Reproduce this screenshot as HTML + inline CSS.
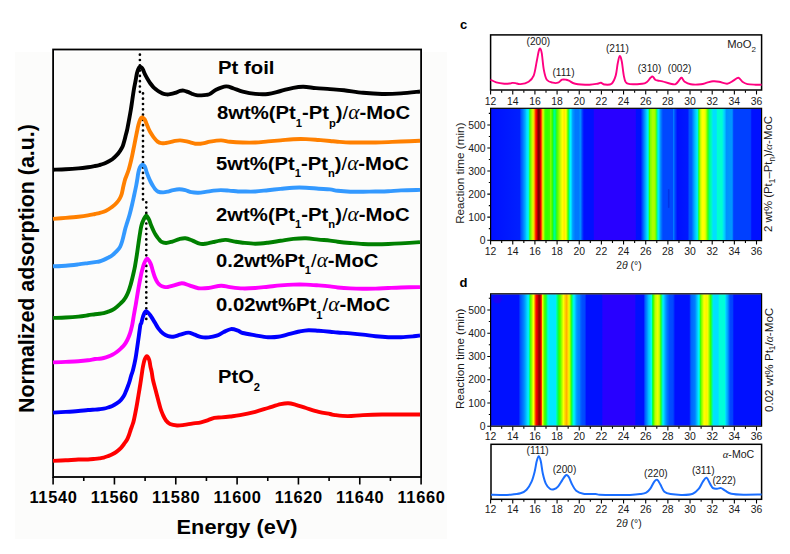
<!DOCTYPE html><html><head><meta charset="utf-8"><style>html,body{margin:0;padding:0;background:#fff;}svg{display:block}</style></head><body>
<svg xmlns="http://www.w3.org/2000/svg" width="790" height="554" viewBox="0 0 790 554" font-family='&quot;Liberation Sans&quot;, sans-serif'>
<rect x="0" y="0" width="790" height="554" fill="#fff"/>
<rect x="15" y="52" width="432" height="487" fill="#fcfcfb"/>
<rect x="53.1" y="49.5" width="368" height="427.5" fill="none" stroke="#000" stroke-width="1.8"/>
<path d="M53.10,477 V484.5 M83.77,477 V481 M114.43,477 V484.5 M145.10,477 V481 M175.77,477 V484.5 M206.43,477 V481 M237.10,477 V484.5 M267.77,477 V481 M298.43,477 V484.5 M329.10,477 V481 M359.77,477 V484.5 M390.43,477 V481 M421.10,477 V484.5" stroke="#000" stroke-width="1.6" fill="none"/>
<g transform="translate(53.10,502.5) scale(1.04,1)"><text x="0.4" y="0" font-size="15.8" font-weight="bold" letter-spacing="0.65" text-anchor="middle">11540</text></g>
<g transform="translate(114.43,502.5) scale(1.04,1)"><text x="0.4" y="0" font-size="15.8" font-weight="bold" letter-spacing="0.65" text-anchor="middle">11560</text></g>
<g transform="translate(175.77,502.5) scale(1.04,1)"><text x="0.4" y="0" font-size="15.8" font-weight="bold" letter-spacing="0.65" text-anchor="middle">11580</text></g>
<g transform="translate(237.10,502.5) scale(1.04,1)"><text x="0.4" y="0" font-size="15.8" font-weight="bold" letter-spacing="0.65" text-anchor="middle">11600</text></g>
<g transform="translate(298.43,502.5) scale(1.04,1)"><text x="0.4" y="0" font-size="15.8" font-weight="bold" letter-spacing="0.65" text-anchor="middle">11620</text></g>
<g transform="translate(359.77,502.5) scale(1.04,1)"><text x="0.4" y="0" font-size="15.8" font-weight="bold" letter-spacing="0.65" text-anchor="middle">11640</text></g>
<g transform="translate(421.10,502.5) scale(1.04,1)"><text x="0.4" y="0" font-size="15.8" font-weight="bold" letter-spacing="0.65" text-anchor="middle">11660</text></g>
<g transform="translate(237.1,533.9) scale(1.058,1)"><text x="0" y="0" font-size="20.6" font-weight="bold" text-anchor="middle">Energy (eV)</text></g>
<g transform="translate(34.4,268.5) scale(1.043,1) rotate(-90)"><text x="0" y="0" font-size="21.4" font-weight="bold" text-anchor="middle">Normalized adsorption (a.u.)</text></g>
<path d="M139.9,54.7 V92.2" stroke="#000" stroke-width="2.7" stroke-linecap="round" stroke-dasharray="0 5.3" fill="none"/>
<path d="M143,93.4 V199.5" stroke="#000" stroke-width="2.7" stroke-linecap="round" stroke-dasharray="0 5.3" fill="none"/>
<path d="M146.3,202.3 V324.2" stroke="#000" stroke-width="2.7" stroke-linecap="round" stroke-dasharray="0 5.3" fill="none"/>
<path d="M53.00,460.90 C55.12,460.80 61.48,460.53 65.70,460.30 C69.92,460.07 74.58,459.63 78.30,459.50 C82.02,459.37 85.22,459.60 88.00,459.50 C90.78,459.40 93.12,459.08 95.00,458.90 C96.88,458.72 97.85,458.62 99.30,458.40 C100.75,458.18 102.25,457.98 103.70,457.60 C105.15,457.22 106.57,456.65 108.00,456.10 C109.43,455.55 110.85,455.05 112.30,454.30 C113.75,453.55 115.25,452.68 116.70,451.60 C118.15,450.52 119.68,449.20 121.00,447.80 C122.32,446.40 123.58,444.58 124.60,443.20 C125.62,441.82 126.37,440.87 127.10,439.50 C127.83,438.13 128.42,436.58 129.00,435.00 C129.58,433.42 130.03,431.67 130.60,430.00 C131.17,428.33 131.85,426.67 132.40,425.00 C132.95,423.33 133.20,423.10 133.90,420.00 C134.60,416.90 135.83,410.57 136.60,406.40 C137.37,402.23 137.87,398.82 138.50,395.00 C139.13,391.18 139.80,387.33 140.40,383.50 C141.00,379.67 141.67,374.87 142.10,372.00 C142.53,369.13 142.58,368.33 143.00,366.30 C143.42,364.27 143.97,361.47 144.60,359.80 C145.23,358.13 146.03,356.30 146.80,356.30 C147.57,356.30 148.60,358.13 149.20,359.80 C149.80,361.47 149.97,364.18 150.40,366.30 C150.83,368.42 151.37,370.22 151.80,372.50 C152.23,374.78 152.37,377.08 153.00,380.00 C153.63,382.92 154.73,386.67 155.60,390.00 C156.47,393.33 157.38,396.92 158.20,400.00 C159.02,403.08 159.70,406.00 160.50,408.50 C161.30,411.00 162.08,413.00 163.00,415.00 C163.92,417.00 164.83,419.00 166.00,420.50 C167.17,422.00 168.15,423.17 170.00,424.00 C171.85,424.83 174.73,425.35 177.10,425.50 C179.47,425.65 181.70,425.22 184.20,424.90 C186.70,424.58 189.30,424.03 192.10,423.60 C194.90,423.17 198.33,422.88 201.00,422.30 C203.67,421.72 205.88,420.85 208.10,420.10 C210.32,419.35 212.08,418.25 214.30,417.80 C216.52,417.35 218.75,417.62 221.40,417.40 C224.05,417.18 227.10,416.87 230.20,416.50 C233.30,416.13 235.82,415.98 240.00,415.20 C244.18,414.42 250.63,413.00 255.30,411.80 C259.97,410.60 263.78,409.27 268.00,408.00 C272.22,406.73 277.23,405.00 280.60,404.20 C283.97,403.40 285.67,403.10 288.20,403.20 C290.73,403.30 292.83,404.00 295.80,404.80 C298.77,405.60 302.20,406.83 306.00,408.00 C309.80,409.17 314.60,410.80 318.60,411.80 C322.60,412.80 327.25,413.45 330.00,414.00 C332.75,414.55 332.13,414.75 335.10,415.10 C338.07,415.45 343.15,416.10 347.80,416.10 C352.45,416.10 357.30,415.37 363.00,415.10 C368.70,414.83 375.67,414.60 382.00,414.50 C388.33,414.40 394.67,414.50 401.00,414.50 C407.33,414.50 416.83,414.50 420.00,414.50" stroke="#ff0000" stroke-width="3.9" fill="none" stroke-linejoin="round" stroke-linecap="butt"/>
<path d="M53.00,412.60 C55.12,412.48 61.48,412.17 65.70,411.90 C69.92,411.63 74.58,411.32 78.30,411.00 C82.02,410.68 85.22,410.23 88.00,410.00 C90.78,409.77 93.12,409.73 95.00,409.60 C96.88,409.47 97.85,409.37 99.30,409.20 C100.75,409.03 102.25,408.88 103.70,408.60 C105.15,408.32 106.57,407.93 108.00,407.50 C109.43,407.07 110.85,406.68 112.30,406.00 C113.75,405.32 115.25,404.43 116.70,403.40 C118.15,402.37 119.85,400.98 121.00,399.80 C122.15,398.62 122.87,397.50 123.60,396.30 C124.33,395.10 124.70,394.23 125.40,392.60 C126.10,390.97 127.08,388.43 127.80,386.50 C128.52,384.57 129.13,382.83 129.70,381.00 C130.27,379.17 130.65,377.33 131.20,375.50 C131.75,373.67 132.28,372.80 133.00,370.00 C133.72,367.20 134.80,362.45 135.50,358.70 C136.20,354.95 136.65,351.25 137.20,347.50 C137.75,343.75 138.27,339.95 138.80,336.20 C139.33,332.45 139.97,327.23 140.40,325.00 C140.83,322.77 140.92,324.35 141.40,322.80 C141.88,321.25 142.52,317.62 143.30,315.70 C144.08,313.78 144.88,311.30 146.10,311.30 C147.32,311.30 149.12,313.78 150.60,315.70 C152.08,317.62 153.72,320.68 155.00,322.80 C156.28,324.92 156.95,326.60 158.30,328.40 C159.65,330.20 161.47,332.30 163.10,333.60 C164.73,334.90 166.42,335.68 168.10,336.20 C169.78,336.72 171.17,336.95 173.20,336.70 C175.23,336.45 177.77,335.38 180.30,334.70 C182.83,334.02 186.03,332.60 188.40,332.60 C190.77,332.60 192.32,333.93 194.50,334.70 C196.68,335.47 199.15,336.75 201.50,337.20 C203.85,337.65 206.07,337.65 208.60,337.40 C211.13,337.15 214.17,336.58 216.70,335.70 C219.23,334.82 221.43,333.20 223.80,332.10 C226.17,331.00 228.53,329.35 230.90,329.10 C233.27,328.85 236.03,329.95 238.00,330.60 C239.97,331.25 239.82,332.22 242.70,333.00 C245.58,333.78 251.08,334.60 255.30,335.30 C259.52,336.00 264.20,336.95 268.00,337.20 C271.80,337.45 274.93,337.23 278.10,336.80 C281.27,336.37 283.42,335.48 287.00,334.60 C290.58,333.72 296.02,332.23 299.60,331.50 C303.18,330.77 305.33,330.32 308.50,330.20 C311.67,330.08 315.02,330.55 318.60,330.80 C322.18,331.05 326.82,331.42 330.00,331.70 C333.18,331.98 334.32,332.22 337.70,332.50 C341.08,332.78 346.08,333.05 350.30,333.40 C354.52,333.75 358.78,334.12 363.00,334.60 C367.22,335.08 371.38,335.87 375.60,336.30 C379.82,336.73 384.07,337.05 388.30,337.20 C392.53,337.35 396.78,337.35 401.00,337.20 C405.22,337.05 410.43,336.58 413.60,336.30 C416.77,336.02 418.93,335.63 420.00,335.50" stroke="#0000ff" stroke-width="3.9" fill="none" stroke-linejoin="round" stroke-linecap="butt"/>
<path d="M53.00,362.40 C55.12,362.32 61.48,362.08 65.70,361.90 C69.92,361.72 74.58,361.57 78.30,361.30 C82.02,361.03 85.22,360.68 88.00,360.30 C90.78,359.92 93.12,359.25 95.00,359.00 C96.88,358.75 97.85,358.97 99.30,358.80 C100.75,358.63 102.25,358.35 103.70,358.00 C105.15,357.65 106.57,357.23 108.00,356.70 C109.43,356.17 110.85,355.58 112.30,354.80 C113.75,354.02 115.25,353.08 116.70,352.00 C118.15,350.92 119.72,349.50 121.00,348.30 C122.28,347.10 123.35,346.18 124.40,344.80 C125.45,343.42 126.43,341.72 127.30,340.00 C128.17,338.28 128.97,336.25 129.60,334.50 C130.23,332.75 130.65,331.17 131.10,329.50 C131.55,327.83 131.83,326.92 132.30,324.50 C132.77,322.08 133.33,318.25 133.90,315.00 C134.47,311.75 135.25,307.58 135.70,305.00 C136.15,302.42 136.13,302.30 136.60,299.50 C137.07,296.70 137.83,291.95 138.50,288.20 C139.17,284.45 139.98,280.02 140.60,277.00 C141.22,273.98 141.60,272.38 142.20,270.10 C142.80,267.82 143.37,265.22 144.20,263.30 C145.03,261.38 146.15,258.60 147.20,258.60 C148.25,258.60 149.60,261.38 150.50,263.30 C151.40,265.22 151.88,267.82 152.60,270.10 C153.32,272.38 153.98,274.93 154.80,277.00 C155.62,279.07 156.55,281.08 157.50,282.50 C158.45,283.92 159.42,284.78 160.50,285.50 C161.58,286.22 162.77,286.55 164.00,286.80 C165.23,287.05 166.40,287.18 167.90,287.00 C169.40,286.82 170.68,286.33 173.00,285.70 C175.32,285.07 179.07,283.25 181.80,283.20 C184.53,283.15 186.65,284.57 189.40,285.40 C192.15,286.23 195.13,287.77 198.30,288.20 C201.47,288.63 204.60,288.42 208.40,288.00 C212.20,287.58 217.50,285.85 221.10,285.70 C224.70,285.55 226.40,286.65 230.00,287.10 C233.60,287.55 238.48,288.25 242.70,288.40 C246.92,288.55 251.08,288.28 255.30,288.00 C259.52,287.72 263.78,287.13 268.00,286.70 C272.22,286.27 276.38,285.75 280.60,285.40 C284.82,285.05 289.07,284.73 293.30,284.60 C297.53,284.47 301.78,284.47 306.00,284.60 C310.22,284.73 314.60,285.10 318.60,285.40 C322.60,285.70 326.82,286.05 330.00,286.40 C333.18,286.75 334.32,287.17 337.70,287.50 C341.08,287.83 346.08,288.20 350.30,288.40 C354.52,288.60 358.78,288.67 363.00,288.70 C367.22,288.73 371.38,288.72 375.60,288.60 C379.82,288.48 384.07,288.18 388.30,288.00 C392.53,287.82 395.72,287.65 401.00,287.50 C406.28,287.35 416.83,287.17 420.00,287.10" stroke="#ff00ff" stroke-width="3.9" fill="none" stroke-linejoin="round" stroke-linecap="butt"/>
<path d="M53.00,317.90 C55.12,317.83 61.48,317.72 65.70,317.50 C69.92,317.28 74.58,316.97 78.30,316.60 C82.02,316.23 85.22,315.70 88.00,315.30 C90.78,314.90 93.12,314.45 95.00,314.20 C96.88,313.95 97.85,313.98 99.30,313.80 C100.75,313.62 102.25,313.45 103.70,313.10 C105.15,312.75 106.57,312.22 108.00,311.70 C109.43,311.18 110.85,310.80 112.30,310.00 C113.75,309.20 115.25,308.07 116.70,306.90 C118.15,305.73 119.87,304.08 121.00,303.00 C122.13,301.92 122.73,301.32 123.50,300.40 C124.27,299.48 124.93,298.60 125.60,297.50 C126.27,296.40 126.90,295.17 127.50,293.80 C128.10,292.43 128.67,290.85 129.20,289.30 C129.73,287.75 130.15,286.47 130.70,284.50 C131.25,282.53 131.95,279.75 132.50,277.50 C133.05,275.25 133.57,272.97 134.00,271.00 C134.43,269.03 134.62,268.45 135.10,265.70 C135.58,262.95 136.33,258.25 136.90,254.50 C137.47,250.75 137.95,246.95 138.50,243.20 C139.05,239.45 139.70,234.98 140.20,232.00 C140.70,229.02 140.93,227.37 141.50,225.30 C142.07,223.23 142.80,221.22 143.60,219.60 C144.40,217.98 145.40,215.60 146.30,215.60 C147.20,215.60 148.20,217.98 149.00,219.60 C149.80,221.22 150.25,223.23 151.10,225.30 C151.95,227.37 153.25,230.30 154.10,232.00 C154.95,233.70 155.55,234.48 156.20,235.50 C156.85,236.52 157.18,237.08 158.00,238.10 C158.82,239.12 159.75,240.78 161.10,241.60 C162.45,242.42 164.25,243.00 166.10,243.00 C167.95,243.00 170.00,242.25 172.20,241.60 C174.40,240.95 177.10,239.65 179.30,239.10 C181.50,238.55 183.20,238.05 185.40,238.30 C187.60,238.55 190.13,239.70 192.50,240.60 C194.87,241.50 197.42,243.18 199.60,243.70 C201.78,244.22 203.42,243.95 205.60,243.70 C207.78,243.45 210.33,242.72 212.70,242.20 C215.07,241.68 217.60,240.98 219.80,240.60 C222.00,240.22 223.37,239.73 225.90,239.90 C228.43,240.07 232.20,241.13 235.00,241.60 C237.80,242.07 239.32,242.35 242.70,242.70 C246.08,243.05 251.08,243.70 255.30,243.70 C259.52,243.70 263.78,243.18 268.00,242.70 C272.22,242.22 276.38,241.43 280.60,240.80 C284.82,240.17 289.07,239.32 293.30,238.90 C297.53,238.48 301.78,238.18 306.00,238.30 C310.22,238.42 314.60,239.22 318.60,239.60 C322.60,239.98 326.82,240.25 330.00,240.60 C333.18,240.95 334.32,241.30 337.70,241.70 C341.08,242.10 346.08,242.62 350.30,243.00 C354.52,243.38 358.78,243.80 363.00,244.00 C367.22,244.20 371.38,244.20 375.60,244.20 C379.82,244.20 384.07,244.13 388.30,244.00 C392.53,243.87 395.72,243.72 401.00,243.40 C406.28,243.08 416.83,242.32 420.00,242.10" stroke="#008000" stroke-width="3.9" fill="none" stroke-linejoin="round" stroke-linecap="butt"/>
<path d="M53.00,266.30 C55.12,266.20 61.48,266.02 65.70,265.70 C69.92,265.38 74.58,264.83 78.30,264.40 C82.02,263.97 85.22,263.48 88.00,263.10 C90.78,262.72 93.12,262.37 95.00,262.10 C96.88,261.83 97.85,261.87 99.30,261.50 C100.75,261.13 102.25,260.52 103.70,259.90 C105.15,259.28 106.57,258.58 108.00,257.80 C109.43,257.02 110.85,256.30 112.30,255.20 C113.75,254.10 115.40,252.60 116.70,251.20 C118.00,249.80 119.17,248.53 120.10,246.80 C121.03,245.07 121.67,242.87 122.30,240.80 C122.93,238.73 123.42,236.37 123.90,234.40 C124.38,232.43 124.78,230.57 125.20,229.00 C125.62,227.43 125.68,227.33 126.40,225.00 C127.12,222.67 128.57,218.33 129.50,215.00 C130.43,211.67 131.22,208.33 132.00,205.00 C132.78,201.67 133.48,198.33 134.20,195.00 C134.92,191.67 135.75,187.83 136.30,185.00 C136.85,182.17 137.15,180.10 137.50,178.00 C137.85,175.90 137.98,174.20 138.40,172.40 C138.82,170.60 139.37,168.48 140.00,167.20 C140.63,165.92 141.57,165.00 142.20,164.70 C142.83,164.40 143.32,164.98 143.80,165.40 C144.28,165.82 144.62,166.03 145.10,167.20 C145.58,168.37 146.10,170.68 146.70,172.40 C147.30,174.12 148.07,175.98 148.70,177.50 C149.33,179.02 149.83,180.17 150.50,181.50 C151.17,182.83 151.95,184.25 152.70,185.50 C153.45,186.75 154.12,187.98 155.00,189.00 C155.88,190.02 156.65,191.03 158.00,191.60 C159.35,192.17 161.42,192.40 163.10,192.40 C164.78,192.40 166.42,191.98 168.10,191.60 C169.78,191.22 171.33,190.48 173.20,190.10 C175.07,189.72 177.28,189.30 179.30,189.30 C181.32,189.30 183.28,189.62 185.30,190.10 C187.32,190.58 189.20,191.77 191.40,192.20 C193.60,192.63 196.13,192.75 198.50,192.70 C200.87,192.65 203.07,192.25 205.60,191.90 C208.13,191.55 211.17,190.90 213.70,190.60 C216.23,190.30 218.27,190.10 220.80,190.10 C223.33,190.10 226.03,190.37 228.90,190.60 C231.77,190.83 235.70,191.35 238.00,191.50 C240.30,191.65 239.82,191.50 242.70,191.50 C245.58,191.50 251.08,191.72 255.30,191.50 C259.52,191.28 263.78,190.63 268.00,190.20 C272.22,189.77 276.38,189.32 280.60,188.90 C284.82,188.48 289.07,187.90 293.30,187.70 C297.53,187.50 301.78,187.53 306.00,187.70 C310.22,187.87 314.60,188.42 318.60,188.70 C322.60,188.98 326.82,189.05 330.00,189.40 C333.18,189.75 334.32,190.42 337.70,190.80 C341.08,191.18 346.08,191.55 350.30,191.70 C354.52,191.85 358.78,191.73 363.00,191.70 C367.22,191.67 371.38,191.58 375.60,191.50 C379.82,191.42 384.07,191.38 388.30,191.20 C392.53,191.02 395.72,190.62 401.00,190.40 C406.28,190.18 416.83,189.98 420.00,189.90" stroke="#3399ff" stroke-width="3.9" fill="none" stroke-linejoin="round" stroke-linecap="butt"/>
<path d="M53.00,218.90 C55.12,218.73 61.48,218.27 65.70,217.90 C69.92,217.53 74.58,217.12 78.30,216.70 C82.02,216.28 85.22,215.85 88.00,215.40 C90.78,214.95 93.12,214.38 95.00,214.00 C96.88,213.62 97.85,213.47 99.30,213.10 C100.75,212.73 102.25,212.38 103.70,211.80 C105.15,211.22 106.57,210.43 108.00,209.60 C109.43,208.77 110.85,207.95 112.30,206.80 C113.75,205.65 115.47,204.07 116.70,202.70 C117.93,201.33 118.87,200.05 119.70,198.60 C120.53,197.15 121.13,195.85 121.70,194.00 C122.27,192.15 122.65,189.50 123.10,187.50 C123.55,185.50 124.02,183.50 124.40,182.00 C124.78,180.50 124.70,180.50 125.40,178.50 C126.10,176.50 127.63,173.08 128.60,170.00 C129.57,166.92 130.42,163.33 131.20,160.00 C131.98,156.67 132.62,153.33 133.30,150.00 C133.98,146.67 134.72,142.92 135.30,140.00 C135.88,137.08 136.28,135.00 136.80,132.50 C137.32,130.00 137.82,127.20 138.40,125.00 C138.98,122.80 139.72,120.57 140.30,119.30 C140.88,118.03 141.37,117.58 141.90,117.40 C142.43,117.22 143.00,117.82 143.50,118.20 C144.00,118.58 144.42,118.82 144.90,119.70 C145.38,120.58 145.77,121.95 146.40,123.50 C147.03,125.05 148.02,127.50 148.70,129.00 C149.38,130.50 149.70,131.15 150.50,132.50 C151.30,133.85 152.32,135.58 153.50,137.10 C154.68,138.62 156.28,140.58 157.60,141.60 C158.92,142.62 160.03,142.97 161.40,143.20 C162.77,143.43 164.33,143.17 165.80,143.00 C167.27,142.83 168.65,142.55 170.20,142.20 C171.75,141.85 173.45,141.20 175.10,140.90 C176.75,140.60 178.42,140.37 180.10,140.40 C181.78,140.43 183.50,140.77 185.20,141.10 C186.90,141.43 188.62,141.97 190.30,142.40 C191.98,142.83 193.62,143.48 195.30,143.70 C196.98,143.92 198.72,143.83 200.40,143.70 C202.08,143.57 203.80,143.25 205.40,142.90 C207.00,142.55 207.38,142.02 210.00,141.60 C212.62,141.18 217.77,140.38 221.10,140.40 C224.43,140.42 226.40,141.35 230.00,141.70 C233.60,142.05 238.48,142.37 242.70,142.50 C246.92,142.63 251.08,142.68 255.30,142.50 C259.52,142.32 263.78,141.75 268.00,141.40 C272.22,141.05 276.38,140.77 280.60,140.40 C284.82,140.03 289.07,139.42 293.30,139.20 C297.53,138.98 301.78,138.97 306.00,139.10 C310.22,139.23 314.60,139.68 318.60,140.00 C322.60,140.32 326.82,140.72 330.00,141.00 C333.18,141.28 334.32,141.45 337.70,141.70 C341.08,141.95 346.08,142.37 350.30,142.50 C354.52,142.63 358.78,142.50 363.00,142.50 C367.22,142.50 371.38,142.57 375.60,142.50 C379.82,142.43 384.07,142.27 388.30,142.10 C392.53,141.93 395.72,141.72 401.00,141.50 C406.28,141.28 416.83,140.92 420.00,140.80" stroke="#ff8000" stroke-width="3.9" fill="none" stroke-linejoin="round" stroke-linecap="butt"/>
<path d="M53.00,169.70 C55.12,169.63 61.48,169.52 65.70,169.30 C69.92,169.08 74.58,168.75 78.30,168.40 C82.02,168.05 85.22,167.60 88.00,167.20 C90.78,166.80 93.12,166.35 95.00,166.00 C96.88,165.65 97.85,165.47 99.30,165.10 C100.75,164.73 102.25,164.37 103.70,163.80 C105.15,163.23 106.57,162.47 108.00,161.70 C109.43,160.93 110.85,160.28 112.30,159.20 C113.75,158.12 115.40,156.60 116.70,155.20 C118.00,153.80 119.10,152.28 120.10,150.80 C121.10,149.32 121.98,148.02 122.70,146.30 C123.42,144.58 123.88,142.38 124.40,140.50 C124.92,138.62 125.35,136.75 125.80,135.00 C126.25,133.25 126.57,132.50 127.10,130.00 C127.63,127.50 128.38,123.33 129.00,120.00 C129.62,116.67 130.25,113.33 130.80,110.00 C131.35,106.67 131.80,103.33 132.30,100.00 C132.80,96.67 133.28,93.05 133.80,90.00 C134.32,86.95 134.88,84.45 135.40,81.70 C135.92,78.95 136.42,75.62 136.90,73.50 C137.38,71.38 137.78,70.10 138.30,69.00 C138.82,67.90 139.43,67.13 140.00,66.90 C140.57,66.67 141.20,67.15 141.70,67.60 C142.20,68.05 142.45,68.47 143.00,69.60 C143.55,70.73 144.22,72.80 145.00,74.40 C145.78,76.00 146.80,77.68 147.70,79.20 C148.60,80.72 149.50,82.23 150.40,83.50 C151.30,84.77 152.20,85.85 153.10,86.80 C154.00,87.75 154.80,88.38 155.80,89.20 C156.80,90.02 158.02,91.02 159.10,91.70 C160.18,92.38 161.03,92.85 162.30,93.30 C163.57,93.75 165.42,94.25 166.70,94.40 C167.98,94.55 168.60,94.45 170.00,94.20 C171.40,93.95 173.42,93.45 175.10,92.90 C176.78,92.35 178.67,91.28 180.10,90.90 C181.53,90.52 182.43,90.43 183.70,90.60 C184.97,90.77 186.35,91.38 187.70,91.90 C189.05,92.42 190.37,93.15 191.80,93.70 C193.23,94.25 194.70,94.92 196.30,95.20 C197.90,95.48 199.70,95.45 201.40,95.40 C203.10,95.35 205.07,95.15 206.50,94.90 C207.93,94.65 208.42,94.75 210.00,93.90 C211.58,93.05 213.32,91.05 216.00,89.80 C218.68,88.55 223.15,86.62 226.10,86.40 C229.05,86.18 230.93,87.63 233.70,88.50 C236.47,89.37 239.10,90.70 242.70,91.60 C246.30,92.50 251.08,93.50 255.30,93.90 C259.52,94.30 263.78,94.48 268.00,94.00 C272.22,93.52 276.38,92.03 280.60,91.00 C284.82,89.97 289.50,88.50 293.30,87.80 C297.10,87.10 299.62,86.75 303.40,86.80 C307.18,86.85 311.57,87.72 316.00,88.10 C320.43,88.48 325.33,88.73 330.00,89.10 C334.67,89.47 338.50,89.68 344.00,90.30 C349.50,90.92 356.67,92.18 363.00,92.80 C369.33,93.42 375.67,93.90 382.00,94.00 C388.33,94.10 394.67,93.82 401.00,93.40 C407.33,92.98 416.83,91.82 420.00,91.50" stroke="#000000" stroke-width="3.9" fill="none" stroke-linejoin="round" stroke-linecap="butt"/>
<g transform="translate(217.99,73.70) scale(1.0711,1)"><text x="0" y="0" font-size="19" font-weight="bold">Pt foil</text></g>
<g transform="translate(217.00,119.00) scale(1.0672,1)"><text x="0" y="0" font-size="19" font-weight="bold">8wt%(Pt<tspan font-size="10.5" dy="7.7">1</tspan><tspan dy="-7.7">-Pt</tspan><tspan font-size="10.5" dy="7.7">p</tspan><tspan dy="-7.7">)<tspan font-weight="normal">/</tspan></tspan><tspan font-weight="normal" font-style="italic" font-size="20" font-family="Liberation Serif, serif">&#945;</tspan>-MoC</text></g>
<g transform="translate(216.01,169.60) scale(1.0661,1)"><text x="0" y="0" font-size="19" font-weight="bold">5wt%(Pt<tspan font-size="10.5" dy="7.7">1</tspan><tspan dy="-7.7">-Pt</tspan><tspan font-size="10.5" dy="7.7">n</tspan><tspan dy="-7.7">)<tspan font-weight="normal">/</tspan></tspan><tspan font-weight="normal" font-style="italic" font-size="20" font-family="Liberation Serif, serif">&#945;</tspan>-MoC</text></g>
<g transform="translate(216.01,220.70) scale(1.0700,1)"><text x="0" y="0" font-size="19" font-weight="bold">2wt%(Pt<tspan font-size="10.5" dy="7.7">1</tspan><tspan dy="-7.7">-Pt</tspan><tspan font-size="10.5" dy="7.7">n</tspan><tspan dy="-7.7">)<tspan font-weight="normal">/</tspan></tspan><tspan font-weight="normal" font-style="italic" font-size="20" font-family="Liberation Serif, serif">&#945;</tspan>-MoC</text></g>
<g transform="translate(216.02,266.60) scale(1.0648,1)"><text x="0" y="0" font-size="19" font-weight="bold">0.2wt%Pt<tspan font-size="10.5" dy="7.7">1</tspan><tspan dy="-7.7"><tspan font-weight="normal">/</tspan></tspan><tspan font-weight="normal" font-style="italic" font-size="20" font-family="Liberation Serif, serif">&#945;</tspan>-MoC</text></g>
<g transform="translate(216.01,311.40) scale(1.0676,1)"><text x="0" y="0" font-size="19" font-weight="bold">0.02wt%Pt<tspan font-size="10.5" dy="7.7">1</tspan><tspan dy="-7.7"><tspan font-weight="normal">/</tspan></tspan><tspan font-weight="normal" font-style="italic" font-size="20" font-family="Liberation Serif, serif">&#945;</tspan>-MoC</text></g>
<g transform="translate(218.02,382.80) scale(1.0621,1)"><text x="0" y="0" font-size="19" font-weight="bold">PtO<tspan font-size="10.5" dy="8.3">2</tspan></text></g>
<text x="460" y="29.4" font-size="13" font-weight="bold">c</text>
<rect x="490.6" y="34.9" width="271" height="55.1" fill="none" stroke="#000" stroke-width="1.5"/>
<path d="M490.60,90.40 V94.40 M501.68,90.40 V92.70 M512.76,90.40 V94.40 M523.84,90.40 V92.70 M534.92,90.40 V94.40 M546.00,90.40 V92.70 M557.08,90.40 V94.40 M568.16,90.40 V92.70 M579.24,90.40 V94.40 M590.32,90.40 V92.70 M601.40,90.40 V94.40 M612.48,90.40 V92.70 M623.56,90.40 V94.40 M634.64,90.40 V92.70 M645.72,90.40 V94.40 M656.80,90.40 V92.70 M667.88,90.40 V94.40 M678.96,90.40 V92.70 M690.04,90.40 V94.40 M701.12,90.40 V92.70 M712.20,90.40 V94.40 M723.28,90.40 V92.70 M734.36,90.40 V94.40 M745.44,90.40 V92.70 M756.52,90.40 V94.40" stroke="#000" stroke-width="1.1" fill="none"/>
<text x="490.60" y="104.80" font-size="10.4" text-anchor="middle" fill="#1a1a1a">12</text><text x="512.76" y="104.80" font-size="10.4" text-anchor="middle" fill="#1a1a1a">14</text><text x="534.92" y="104.80" font-size="10.4" text-anchor="middle" fill="#1a1a1a">16</text><text x="557.08" y="104.80" font-size="10.4" text-anchor="middle" fill="#1a1a1a">18</text><text x="579.24" y="104.80" font-size="10.4" text-anchor="middle" fill="#1a1a1a">20</text><text x="601.40" y="104.80" font-size="10.4" text-anchor="middle" fill="#1a1a1a">22</text><text x="623.56" y="104.80" font-size="10.4" text-anchor="middle" fill="#1a1a1a">24</text><text x="645.72" y="104.80" font-size="10.4" text-anchor="middle" fill="#1a1a1a">26</text><text x="667.88" y="104.80" font-size="10.4" text-anchor="middle" fill="#1a1a1a">28</text><text x="690.04" y="104.80" font-size="10.4" text-anchor="middle" fill="#1a1a1a">30</text><text x="712.20" y="104.80" font-size="10.4" text-anchor="middle" fill="#1a1a1a">32</text><text x="734.36" y="104.80" font-size="10.4" text-anchor="middle" fill="#1a1a1a">34</text><text x="756.52" y="104.80" font-size="10.4" text-anchor="middle" fill="#1a1a1a">36</text>
<path d="M490.50,79.70 C491.45,80.13 493.90,81.63 496.20,82.30 C498.50,82.97 502.00,83.50 504.30,83.70 C506.60,83.90 508.65,83.63 510.00,83.50 C511.35,83.37 511.50,82.97 512.40,82.90 C513.30,82.83 514.05,82.90 515.40,83.10 C516.75,83.30 518.30,84.33 520.50,84.10 C522.70,83.87 526.40,83.12 528.60,81.70 C530.80,80.28 532.35,78.97 533.70,75.60 C535.05,72.23 535.87,65.55 536.70,61.50 C537.53,57.45 538.12,53.47 538.70,51.30 C539.28,49.13 539.68,48.15 540.20,48.50 C540.72,48.85 541.20,49.88 541.80,53.40 C542.40,56.92 542.97,65.22 543.80,69.60 C544.63,73.98 545.28,77.52 546.80,79.70 C548.32,81.88 551.03,82.20 552.90,82.70 C554.77,83.20 556.48,83.20 558.00,82.70 C559.52,82.20 560.65,80.20 562.00,79.70 C563.35,79.20 564.92,79.53 566.10,79.70 C567.28,79.87 567.58,80.03 569.10,80.70 C570.62,81.37 571.82,83.03 575.20,83.70 C578.58,84.37 585.68,84.70 589.40,84.70 C593.12,84.70 595.58,84.03 597.50,83.70 C599.42,83.37 599.73,82.57 600.90,82.70 C602.07,82.83 602.72,84.33 604.50,84.50 C606.28,84.67 609.73,85.18 611.60,83.70 C613.47,82.22 614.68,78.97 615.70,75.60 C616.72,72.23 617.03,66.77 617.70,63.50 C618.37,60.23 619.02,56.33 619.70,56.00 C620.38,55.67 621.05,57.90 621.80,61.50 C622.55,65.10 623.20,73.90 624.20,77.60 C625.20,81.30 624.80,82.68 627.80,83.70 C630.80,84.72 638.97,84.03 642.20,83.70 C645.43,83.37 645.85,82.65 647.20,81.70 C648.55,80.75 649.38,78.85 650.30,78.00 C651.22,77.15 651.87,76.32 652.70,76.60 C653.53,76.88 654.35,79.02 655.30,79.70 C656.25,80.38 657.22,80.43 658.40,80.70 C659.58,80.97 660.38,80.80 662.40,81.30 C664.42,81.80 668.30,83.23 670.50,83.70 C672.70,84.17 674.08,84.77 675.60,84.10 C677.12,83.43 678.60,80.77 679.60,79.70 C680.60,78.63 680.75,77.37 681.60,77.70 C682.45,78.03 683.17,80.60 684.70,81.70 C686.23,82.80 688.10,83.87 690.80,84.30 C693.50,84.73 698.20,84.57 700.90,84.30 C703.60,84.03 704.98,83.20 707.00,82.70 C709.02,82.20 710.98,81.47 713.00,81.30 C715.02,81.13 716.73,81.30 719.10,81.70 C721.47,82.10 724.83,83.87 727.20,83.70 C729.57,83.53 731.43,81.70 733.30,80.70 C735.17,79.70 736.88,77.53 738.40,77.70 C739.92,77.87 740.88,80.63 742.40,81.70 C743.92,82.77 745.30,83.60 747.50,84.10 C749.70,84.60 753.25,84.60 755.60,84.70 C757.95,84.80 760.60,84.70 761.60,84.70" stroke="#ff0080" stroke-width="1.9" fill="none" stroke-linejoin="round"/>
<text x="538.4" y="45.3" font-size="10.1" text-anchor="middle" fill="#1a1a1a">(200)</text>
<text x="563.5" y="75.9" font-size="10.1" text-anchor="middle" fill="#1a1a1a">(111)</text>
<text x="617.4" y="52.1" font-size="10.1" text-anchor="middle" fill="#1a1a1a">(211)</text>
<text x="649.5" y="72.0" font-size="10.1" text-anchor="middle" fill="#1a1a1a">(310)</text>
<text x="679.6" y="72.0" font-size="10.1" text-anchor="middle" fill="#1a1a1a">(002)</text>
<text x="727.3" y="48" font-size="11.2" fill="#1a1a1a">MoO<tspan font-size="8" dy="3.6">2</tspan></text>
<defs><linearGradient id="gc" gradientUnits="userSpaceOnUse" x1="491" y1="0" x2="761" y2="0"><stop offset="0.0030" stop-color="#0010ff"/><stop offset="0.1063" stop-color="#0020ff"/><stop offset="0.1111" stop-color="#0050ff"/><stop offset="0.1170" stop-color="#0070ff"/><stop offset="0.1222" stop-color="#0090ff"/><stop offset="0.1270" stop-color="#00b0ff"/><stop offset="0.1315" stop-color="#00d8ff"/><stop offset="0.1352" stop-color="#00e8ff"/><stop offset="0.1400" stop-color="#00ffd0"/><stop offset="0.1437" stop-color="#40ff00"/><stop offset="0.1481" stop-color="#80ff00"/><stop offset="0.1526" stop-color="#c0ff00"/><stop offset="0.1563" stop-color="#e8f000"/><stop offset="0.1593" stop-color="#ffc000"/><stop offset="0.1619" stop-color="#ff8000"/><stop offset="0.1648" stop-color="#ff3000"/><stop offset="0.1678" stop-color="#ff0000"/><stop offset="0.1704" stop-color="#d00000"/><stop offset="0.1726" stop-color="#a00000"/><stop offset="0.1748" stop-color="#780000"/><stop offset="0.1778" stop-color="#700000"/><stop offset="0.1800" stop-color="#900000"/><stop offset="0.1826" stop-color="#d00000"/><stop offset="0.1852" stop-color="#ff0000"/><stop offset="0.1874" stop-color="#ff6000"/><stop offset="0.1896" stop-color="#ffb000"/><stop offset="0.1926" stop-color="#e8ff00"/><stop offset="0.1963" stop-color="#a0ff00"/><stop offset="0.2000" stop-color="#40ff00"/><stop offset="0.2074" stop-color="#30ff00"/><stop offset="0.2167" stop-color="#40ff00"/><stop offset="0.2207" stop-color="#80ff00"/><stop offset="0.2237" stop-color="#60ff00"/><stop offset="0.2278" stop-color="#30ff00"/><stop offset="0.2315" stop-color="#00ff60"/><stop offset="0.2356" stop-color="#00ff90"/><stop offset="0.2400" stop-color="#00ff60"/><stop offset="0.2437" stop-color="#40ff00"/><stop offset="0.2474" stop-color="#60ff00"/><stop offset="0.2537" stop-color="#a0ff00"/><stop offset="0.2604" stop-color="#e0ff00"/><stop offset="0.2648" stop-color="#ffff00"/><stop offset="0.2715" stop-color="#ffe800"/><stop offset="0.2770" stop-color="#ffff00"/><stop offset="0.2807" stop-color="#c0ff00"/><stop offset="0.2852" stop-color="#40ff00"/><stop offset="0.2896" stop-color="#00ff80"/><stop offset="0.2926" stop-color="#00ffff"/><stop offset="0.2952" stop-color="#00f0ff"/><stop offset="0.2985" stop-color="#00d0ff"/><stop offset="0.3022" stop-color="#00a0ff"/><stop offset="0.3074" stop-color="#0088ff"/><stop offset="0.3130" stop-color="#0078ff"/><stop offset="0.3259" stop-color="#0078ff"/><stop offset="0.3304" stop-color="#0098ff"/><stop offset="0.3333" stop-color="#0078ff"/><stop offset="0.3370" stop-color="#0050ff"/><stop offset="0.3400" stop-color="#0030ff"/><stop offset="0.3444" stop-color="#0010ff"/><stop offset="0.3789" stop-color="#0010ff"/><stop offset="0.3826" stop-color="#2800ff"/><stop offset="0.5344" stop-color="#2800ff"/><stop offset="0.5381" stop-color="#0010ff"/><stop offset="0.5541" stop-color="#0010ff"/><stop offset="0.5593" stop-color="#0040ff"/><stop offset="0.5648" stop-color="#0070ff"/><stop offset="0.5704" stop-color="#00a0ff"/><stop offset="0.5759" stop-color="#00d0ff"/><stop offset="0.5796" stop-color="#00e8ff"/><stop offset="0.5833" stop-color="#00ffb0"/><stop offset="0.5870" stop-color="#40ff00"/><stop offset="0.5907" stop-color="#80ff00"/><stop offset="0.5993" stop-color="#b0ff00"/><stop offset="0.6074" stop-color="#a0ff00"/><stop offset="0.6111" stop-color="#60ff00"/><stop offset="0.6148" stop-color="#00ff80"/><stop offset="0.6193" stop-color="#00f0ff"/><stop offset="0.6241" stop-color="#00c0ff"/><stop offset="0.6278" stop-color="#0090ff"/><stop offset="0.6315" stop-color="#0070ff"/><stop offset="0.6370" stop-color="#0048ff"/><stop offset="0.6722" stop-color="#0048ff"/><stop offset="0.6763" stop-color="#0080ff"/><stop offset="0.6804" stop-color="#0050ff"/><stop offset="0.6852" stop-color="#0030ff"/><stop offset="0.6907" stop-color="#0010ff"/><stop offset="0.7296" stop-color="#0018ff"/><stop offset="0.7333" stop-color="#0050ff"/><stop offset="0.7433" stop-color="#0060ff"/><stop offset="0.7481" stop-color="#0088ff"/><stop offset="0.7533" stop-color="#00b0ff"/><stop offset="0.7593" stop-color="#00d8ff"/><stop offset="0.7644" stop-color="#00f0ff"/><stop offset="0.7674" stop-color="#00ff80"/><stop offset="0.7704" stop-color="#40ff00"/><stop offset="0.7741" stop-color="#a0ff00"/><stop offset="0.7785" stop-color="#e0ff00"/><stop offset="0.7833" stop-color="#ffff00"/><stop offset="0.7870" stop-color="#ffff00"/><stop offset="0.7926" stop-color="#f0ff00"/><stop offset="0.7963" stop-color="#c0ff00"/><stop offset="0.8011" stop-color="#60ff00"/><stop offset="0.8056" stop-color="#20ff40"/><stop offset="0.8096" stop-color="#00ff90"/><stop offset="0.8148" stop-color="#00ffb0"/><stop offset="0.8196" stop-color="#00f0e0"/><stop offset="0.8222" stop-color="#00e0ff"/><stop offset="0.8341" stop-color="#00e0ff"/><stop offset="0.8389" stop-color="#00ffd0"/><stop offset="0.8556" stop-color="#00ffd0"/><stop offset="0.8600" stop-color="#00e8f0"/><stop offset="0.8644" stop-color="#00d0ff"/><stop offset="0.8685" stop-color="#00b0ff"/><stop offset="0.8722" stop-color="#0090ff"/><stop offset="0.8933" stop-color="#0098ff"/><stop offset="0.8963" stop-color="#0060ff"/><stop offset="0.8993" stop-color="#0040ff"/><stop offset="0.9607" stop-color="#0040ff"/><stop offset="0.9659" stop-color="#0010ff"/><stop offset="1.0000" stop-color="#0010ff"/></linearGradient><linearGradient id="gd" gradientUnits="userSpaceOnUse" x1="491" y1="0" x2="761" y2="0"><stop offset="0.0033" stop-color="#0010ff"/><stop offset="0.1022" stop-color="#0010ff"/><stop offset="0.1056" stop-color="#0030ff"/><stop offset="0.1093" stop-color="#0050ff"/><stop offset="0.1167" stop-color="#0070ff"/><stop offset="0.1222" stop-color="#0088ff"/><stop offset="0.1270" stop-color="#00a8ff"/><stop offset="0.1315" stop-color="#00c8ff"/><stop offset="0.1363" stop-color="#00e8ff"/><stop offset="0.1400" stop-color="#00f0f0"/><stop offset="0.1426" stop-color="#00ff80"/><stop offset="0.1452" stop-color="#40ff00"/><stop offset="0.1500" stop-color="#80ff00"/><stop offset="0.1544" stop-color="#d0ff00"/><stop offset="0.1578" stop-color="#ffff00"/><stop offset="0.1604" stop-color="#ffc000"/><stop offset="0.1630" stop-color="#ff6000"/><stop offset="0.1678" stop-color="#ff0000"/><stop offset="0.1726" stop-color="#d00000"/><stop offset="0.1763" stop-color="#a00000"/><stop offset="0.1796" stop-color="#900000"/><stop offset="0.1826" stop-color="#b00000"/><stop offset="0.1852" stop-color="#f00000"/><stop offset="0.1878" stop-color="#ff4000"/><stop offset="0.1889" stop-color="#ffc000"/><stop offset="0.1911" stop-color="#f0ff00"/><stop offset="0.1944" stop-color="#a0ff00"/><stop offset="0.1981" stop-color="#50ff00"/><stop offset="0.2037" stop-color="#20ff20"/><stop offset="0.2074" stop-color="#00ff90"/><stop offset="0.2111" stop-color="#00ffd8"/><stop offset="0.2148" stop-color="#00e8ff"/><stop offset="0.2389" stop-color="#00e8ff"/><stop offset="0.2426" stop-color="#00ffb0"/><stop offset="0.2474" stop-color="#00ff60"/><stop offset="0.2519" stop-color="#30ff00"/><stop offset="0.2574" stop-color="#60ff00"/><stop offset="0.2630" stop-color="#b0ff00"/><stop offset="0.2685" stop-color="#f8ff00"/><stop offset="0.2733" stop-color="#ffd800"/><stop offset="0.2796" stop-color="#ffb000"/><stop offset="0.2852" stop-color="#ffd800"/><stop offset="0.2889" stop-color="#f0ff00"/><stop offset="0.2926" stop-color="#b0ff00"/><stop offset="0.2963" stop-color="#40ff00"/><stop offset="0.3000" stop-color="#00ff60"/><stop offset="0.3037" stop-color="#00ffc0"/><stop offset="0.3074" stop-color="#00f0ff"/><stop offset="0.3130" stop-color="#00c0ff"/><stop offset="0.3167" stop-color="#00a0ff"/><stop offset="0.3222" stop-color="#0088ff"/><stop offset="0.3278" stop-color="#0080ff"/><stop offset="0.3315" stop-color="#0068ff"/><stop offset="0.3370" stop-color="#0050ff"/><stop offset="0.3463" stop-color="#0048ff"/><stop offset="0.3500" stop-color="#0030ff"/><stop offset="0.3537" stop-color="#0010ff"/><stop offset="0.4093" stop-color="#0010ff"/><stop offset="0.4148" stop-color="#2800ff"/><stop offset="0.5315" stop-color="#2800ff"/><stop offset="0.5370" stop-color="#0010ff"/><stop offset="0.5652" stop-color="#0010ff"/><stop offset="0.5685" stop-color="#0040ff"/><stop offset="0.5722" stop-color="#0068ff"/><stop offset="0.5778" stop-color="#0090ff"/><stop offset="0.5833" stop-color="#00c0ff"/><stop offset="0.5900" stop-color="#00e0ff"/><stop offset="0.5944" stop-color="#00ffe8"/><stop offset="0.5974" stop-color="#00ff60"/><stop offset="0.6000" stop-color="#20ff00"/><stop offset="0.6048" stop-color="#80ff00"/><stop offset="0.6093" stop-color="#c0ff00"/><stop offset="0.6170" stop-color="#e8ff00"/><stop offset="0.6233" stop-color="#c0ff00"/><stop offset="0.6270" stop-color="#60ff00"/><stop offset="0.6296" stop-color="#20ff30"/><stop offset="0.6333" stop-color="#00ff90"/><stop offset="0.6370" stop-color="#00f0ff"/><stop offset="0.6426" stop-color="#00c0ff"/><stop offset="0.6481" stop-color="#0090ff"/><stop offset="0.6537" stop-color="#0070ff"/><stop offset="0.6611" stop-color="#0050ff"/><stop offset="0.6741" stop-color="#0048ff"/><stop offset="0.6778" stop-color="#0030ff"/><stop offset="0.6815" stop-color="#0010ff"/><stop offset="0.7344" stop-color="#0010ff"/><stop offset="0.7378" stop-color="#0040ff"/><stop offset="0.7415" stop-color="#0064ff"/><stop offset="0.7556" stop-color="#0080ff"/><stop offset="0.7600" stop-color="#00a8ff"/><stop offset="0.7648" stop-color="#00d0ff"/><stop offset="0.7689" stop-color="#00f0ff"/><stop offset="0.7730" stop-color="#00ffb0"/><stop offset="0.7763" stop-color="#40ff00"/><stop offset="0.7796" stop-color="#80ff00"/><stop offset="0.7844" stop-color="#c0ff00"/><stop offset="0.7889" stop-color="#ffff00"/><stop offset="0.7981" stop-color="#fff000"/><stop offset="0.8019" stop-color="#f0ff00"/><stop offset="0.8056" stop-color="#c0ff00"/><stop offset="0.8093" stop-color="#80ff00"/><stop offset="0.8130" stop-color="#40ff00"/><stop offset="0.8159" stop-color="#20ff40"/><stop offset="0.8193" stop-color="#00ff90"/><stop offset="0.8222" stop-color="#00f0e0"/><stop offset="0.8252" stop-color="#00e0ff"/><stop offset="0.8407" stop-color="#00e0ff"/><stop offset="0.8463" stop-color="#00ffd8"/><stop offset="0.8648" stop-color="#00ffd8"/><stop offset="0.8685" stop-color="#00e0ff"/><stop offset="0.8722" stop-color="#00c0ff"/><stop offset="0.8767" stop-color="#00a0ff"/><stop offset="0.8815" stop-color="#0070ff"/><stop offset="0.8852" stop-color="#0048ff"/><stop offset="0.8956" stop-color="#0040ff"/><stop offset="0.8993" stop-color="#0010ff"/><stop offset="1.0000" stop-color="#0010ff"/></linearGradient></defs>
<rect x="491" y="108.6" width="270" height="131.6" fill="url(#gc)"/>
<rect x="667.9" y="189" width="1.6" height="19" rx="0.8" fill="#0030e0" opacity="0.8"/>
<rect x="490.6" y="108.3" width="271" height="132.3" fill="none" stroke="#000" stroke-width="1.2"/>
<path d="M490.4,240.20 H487.30 M490.4,228.67 H488.80 M490.4,217.15 H487.30 M490.4,205.62 H488.80 M490.4,194.10 H487.30 M490.4,182.57 H488.80 M490.4,171.05 H487.30 M490.4,159.52 H488.80 M490.4,148.00 H487.30 M490.4,136.47 H488.80 M490.4,124.95 H487.30 M490.4,113.42 H488.80" stroke="#000" stroke-width="1.1" fill="none"/>
<text x="485.6" y="243.80" font-size="10.4" text-anchor="end" fill="#1a1a1a">0</text><text x="485.6" y="220.75" font-size="10.4" text-anchor="end" fill="#1a1a1a">100</text><text x="485.6" y="197.70" font-size="10.4" text-anchor="end" fill="#1a1a1a">200</text><text x="485.6" y="174.65" font-size="10.4" text-anchor="end" fill="#1a1a1a">300</text><text x="485.6" y="151.60" font-size="10.4" text-anchor="end" fill="#1a1a1a">400</text><text x="485.6" y="128.55" font-size="10.4" text-anchor="end" fill="#1a1a1a">500</text>
<path d="M490.60,240.60 V244.60 M501.68,240.60 V242.90 M512.76,240.60 V244.60 M523.84,240.60 V242.90 M534.92,240.60 V244.60 M546.00,240.60 V242.90 M557.08,240.60 V244.60 M568.16,240.60 V242.90 M579.24,240.60 V244.60 M590.32,240.60 V242.90 M601.40,240.60 V244.60 M612.48,240.60 V242.90 M623.56,240.60 V244.60 M634.64,240.60 V242.90 M645.72,240.60 V244.60 M656.80,240.60 V242.90 M667.88,240.60 V244.60 M678.96,240.60 V242.90 M690.04,240.60 V244.60 M701.12,240.60 V242.90 M712.20,240.60 V244.60 M723.28,240.60 V242.90 M734.36,240.60 V244.60 M745.44,240.60 V242.90 M756.52,240.60 V244.60" stroke="#000" stroke-width="1.1" fill="none"/>
<text x="490.60" y="255.40" font-size="10.4" text-anchor="middle" fill="#1a1a1a">12</text><text x="512.76" y="255.40" font-size="10.4" text-anchor="middle" fill="#1a1a1a">14</text><text x="534.92" y="255.40" font-size="10.4" text-anchor="middle" fill="#1a1a1a">16</text><text x="557.08" y="255.40" font-size="10.4" text-anchor="middle" fill="#1a1a1a">18</text><text x="579.24" y="255.40" font-size="10.4" text-anchor="middle" fill="#1a1a1a">20</text><text x="601.40" y="255.40" font-size="10.4" text-anchor="middle" fill="#1a1a1a">22</text><text x="623.56" y="255.40" font-size="10.4" text-anchor="middle" fill="#1a1a1a">24</text><text x="645.72" y="255.40" font-size="10.4" text-anchor="middle" fill="#1a1a1a">26</text><text x="667.88" y="255.40" font-size="10.4" text-anchor="middle" fill="#1a1a1a">28</text><text x="690.04" y="255.40" font-size="10.4" text-anchor="middle" fill="#1a1a1a">30</text><text x="712.20" y="255.40" font-size="10.4" text-anchor="middle" fill="#1a1a1a">32</text><text x="734.36" y="255.40" font-size="10.4" text-anchor="middle" fill="#1a1a1a">34</text><text x="756.52" y="255.40" font-size="10.4" text-anchor="middle" fill="#1a1a1a">36</text>
<text x="629" y="269.2" font-size="10.4" text-anchor="middle" fill="#1a1a1a">2<tspan font-style="italic">&#952;</tspan> (°)</text>
<text transform="translate(464.3,173.2) rotate(-90)" font-size="11.7" text-anchor="middle" fill="#1a1a1a">Reaction time (min)</text>
<text transform="translate(772,174) rotate(-90)" font-size="11.4" text-anchor="middle" fill="#1a1a1a">2 wt% (Pt<tspan font-size="8.3" dy="2.8">1</tspan><tspan dy="-2.8">&#8211;Pt</tspan><tspan font-size="8.3" dy="2.8">n</tspan><tspan dy="-2.8">)/</tspan><tspan font-family="Liberation Serif, serif" font-style="italic">&#945;</tspan>-MoC</text>
<text x="459.6" y="287" font-size="13" font-weight="bold">d</text>
<rect x="491" y="294.3" width="270" height="131.4" fill="url(#gd)"/>
<ellipse cx="497.5" cy="299.3" rx="4.3" ry="4" fill="#2000f4" opacity="0.75"/>
<rect x="490.6" y="293.8" width="271" height="132.4" fill="none" stroke="#000" stroke-width="1.2"/>
<path d="M490.4,426.20 H487.30 M490.4,414.57 H488.80 M490.4,402.95 H487.30 M490.4,391.32 H488.80 M490.4,379.70 H487.30 M490.4,368.07 H488.80 M490.4,356.45 H487.30 M490.4,344.82 H488.80 M490.4,333.20 H487.30 M490.4,321.57 H488.80 M490.4,309.95 H487.30 M490.4,298.32 H488.80" stroke="#000" stroke-width="1.1" fill="none"/>
<text x="485.6" y="429.80" font-size="10.4" text-anchor="end" fill="#1a1a1a">0</text><text x="485.6" y="406.55" font-size="10.4" text-anchor="end" fill="#1a1a1a">100</text><text x="485.6" y="383.30" font-size="10.4" text-anchor="end" fill="#1a1a1a">200</text><text x="485.6" y="360.05" font-size="10.4" text-anchor="end" fill="#1a1a1a">300</text><text x="485.6" y="336.80" font-size="10.4" text-anchor="end" fill="#1a1a1a">400</text><text x="485.6" y="313.55" font-size="10.4" text-anchor="end" fill="#1a1a1a">500</text>
<path d="M490.60,426.40 V430.40 M501.68,426.40 V428.70 M512.76,426.40 V430.40 M523.84,426.40 V428.70 M534.92,426.40 V430.40 M546.00,426.40 V428.70 M557.08,426.40 V430.40 M568.16,426.40 V428.70 M579.24,426.40 V430.40 M590.32,426.40 V428.70 M601.40,426.40 V430.40 M612.48,426.40 V428.70 M623.56,426.40 V430.40 M634.64,426.40 V428.70 M645.72,426.40 V430.40 M656.80,426.40 V428.70 M667.88,426.40 V430.40 M678.96,426.40 V428.70 M690.04,426.40 V430.40 M701.12,426.40 V428.70 M712.20,426.40 V430.40 M723.28,426.40 V428.70 M734.36,426.40 V430.40 M745.44,426.40 V428.70 M756.52,426.40 V430.40" stroke="#000" stroke-width="1.1" fill="none"/>
<text x="490.60" y="439.80" font-size="10.4" text-anchor="middle" fill="#1a1a1a">12</text><text x="512.76" y="439.80" font-size="10.4" text-anchor="middle" fill="#1a1a1a">14</text><text x="534.92" y="439.80" font-size="10.4" text-anchor="middle" fill="#1a1a1a">16</text><text x="557.08" y="439.80" font-size="10.4" text-anchor="middle" fill="#1a1a1a">18</text><text x="579.24" y="439.80" font-size="10.4" text-anchor="middle" fill="#1a1a1a">20</text><text x="601.40" y="439.80" font-size="10.4" text-anchor="middle" fill="#1a1a1a">22</text><text x="623.56" y="439.80" font-size="10.4" text-anchor="middle" fill="#1a1a1a">24</text><text x="645.72" y="439.80" font-size="10.4" text-anchor="middle" fill="#1a1a1a">26</text><text x="667.88" y="439.80" font-size="10.4" text-anchor="middle" fill="#1a1a1a">28</text><text x="690.04" y="439.80" font-size="10.4" text-anchor="middle" fill="#1a1a1a">30</text><text x="712.20" y="439.80" font-size="10.4" text-anchor="middle" fill="#1a1a1a">32</text><text x="734.36" y="439.80" font-size="10.4" text-anchor="middle" fill="#1a1a1a">34</text><text x="756.52" y="439.80" font-size="10.4" text-anchor="middle" fill="#1a1a1a">36</text>
<text transform="translate(772.5,359.9) rotate(-90)" font-size="11.6" text-anchor="middle" fill="#1a1a1a">0.02 wt% Pt<tspan font-size="8.4" dy="2.8">1</tspan><tspan dy="-2.8">/</tspan><tspan font-family="Liberation Serif, serif" font-style="italic">&#945;</tspan>-MoC</text>
<text transform="translate(464.3,358.8) rotate(-90)" font-size="11.6" text-anchor="middle" fill="#1a1a1a">Reaction time (min)</text>
<rect x="491" y="444.3" width="270.6" height="55" fill="none" stroke="#000" stroke-width="1.5"/>
<path d="M490.60,499.50 V503.50 M501.68,499.50 V501.80 M512.76,499.50 V503.50 M523.84,499.50 V501.80 M534.92,499.50 V503.50 M546.00,499.50 V501.80 M557.08,499.50 V503.50 M568.16,499.50 V501.80 M579.24,499.50 V503.50 M590.32,499.50 V501.80 M601.40,499.50 V503.50 M612.48,499.50 V501.80 M623.56,499.50 V503.50 M634.64,499.50 V501.80 M645.72,499.50 V503.50 M656.80,499.50 V501.80 M667.88,499.50 V503.50 M678.96,499.50 V501.80 M690.04,499.50 V503.50 M701.12,499.50 V501.80 M712.20,499.50 V503.50 M723.28,499.50 V501.80 M734.36,499.50 V503.50 M745.44,499.50 V501.80 M756.52,499.50 V503.50" stroke="#000" stroke-width="1.1" fill="none"/>
<text x="490.60" y="513.20" font-size="10.4" text-anchor="middle" fill="#1a1a1a">12</text><text x="512.76" y="513.20" font-size="10.4" text-anchor="middle" fill="#1a1a1a">14</text><text x="534.92" y="513.20" font-size="10.4" text-anchor="middle" fill="#1a1a1a">16</text><text x="557.08" y="513.20" font-size="10.4" text-anchor="middle" fill="#1a1a1a">18</text><text x="579.24" y="513.20" font-size="10.4" text-anchor="middle" fill="#1a1a1a">20</text><text x="601.40" y="513.20" font-size="10.4" text-anchor="middle" fill="#1a1a1a">22</text><text x="623.56" y="513.20" font-size="10.4" text-anchor="middle" fill="#1a1a1a">24</text><text x="645.72" y="513.20" font-size="10.4" text-anchor="middle" fill="#1a1a1a">26</text><text x="667.88" y="513.20" font-size="10.4" text-anchor="middle" fill="#1a1a1a">28</text><text x="690.04" y="513.20" font-size="10.4" text-anchor="middle" fill="#1a1a1a">30</text><text x="712.20" y="513.20" font-size="10.4" text-anchor="middle" fill="#1a1a1a">32</text><text x="734.36" y="513.20" font-size="10.4" text-anchor="middle" fill="#1a1a1a">34</text><text x="756.52" y="513.20" font-size="10.4" text-anchor="middle" fill="#1a1a1a">36</text>
<path d="M491.10,494.70 C492.63,494.73 497.08,494.90 500.30,494.90 C503.52,494.90 507.03,494.97 510.40,494.70 C513.77,494.43 517.80,494.13 520.50,493.30 C523.20,492.47 524.75,491.65 526.60,489.70 C528.45,487.75 530.25,484.63 531.60,481.60 C532.95,478.57 533.85,474.88 534.70,471.50 C535.55,468.12 536.03,463.83 536.70,461.30 C537.37,458.77 538.02,456.30 538.70,456.30 C539.38,456.30 540.12,458.43 540.80,461.30 C541.48,464.17 541.97,469.78 542.80,473.50 C543.63,477.22 544.62,481.07 545.80,483.60 C546.98,486.13 548.55,487.75 549.90,488.70 C551.25,489.65 552.55,489.65 553.90,489.30 C555.25,488.95 556.65,488.05 558.00,486.60 C559.35,485.15 560.82,482.37 562.00,480.60 C563.18,478.83 564.25,476.90 565.10,476.00 C565.95,475.10 566.43,474.95 567.10,475.20 C567.77,475.45 568.25,475.93 569.10,477.50 C569.95,479.07 571.02,482.40 572.20,484.60 C573.38,486.80 574.35,489.18 576.20,490.70 C578.05,492.22 580.10,493.13 583.30,493.70 C586.50,494.27 592.70,493.93 595.40,494.10 C598.10,494.27 596.80,494.53 599.50,494.70 C602.20,494.87 606.52,495.07 611.60,495.10 C616.68,495.13 625.25,495.07 630.00,494.90 C634.75,494.73 637.40,494.47 640.10,494.10 C642.80,493.73 644.50,493.60 646.20,492.70 C647.90,491.80 648.95,490.55 650.30,488.70 C651.65,486.85 653.13,483.07 654.30,481.60 C655.47,480.13 656.28,479.40 657.30,479.90 C658.32,480.40 659.22,482.63 660.40,484.60 C661.58,486.57 662.72,490.12 664.40,491.70 C666.08,493.28 667.45,493.57 670.50,494.10 C673.55,494.63 678.98,494.97 682.70,494.90 C686.42,494.83 690.10,494.73 692.80,493.70 C695.50,492.67 697.22,490.72 698.90,488.70 C700.58,486.68 701.62,483.42 702.90,481.60 C704.18,479.78 705.42,477.47 706.60,477.80 C707.78,478.13 708.93,481.88 710.00,483.60 C711.07,485.32 711.82,487.25 713.00,488.10 C714.18,488.95 715.75,488.70 717.10,488.70 C718.45,488.70 719.75,487.77 721.10,488.10 C722.45,488.43 723.50,489.77 725.20,490.70 C726.90,491.63 728.27,493.03 731.30,493.70 C734.33,494.37 738.35,494.57 743.40,494.70 C748.45,494.83 758.57,494.53 761.60,494.50" stroke="#1a6eff" stroke-width="2" fill="none" stroke-linejoin="round"/>
<text x="537.6" y="454.2" font-size="10.1" text-anchor="middle" fill="#1a1a1a">(111)</text>
<text x="564.5" y="472.8" font-size="10.1" text-anchor="middle" fill="#1a1a1a">(200)</text>
<text x="655.9" y="476.9" font-size="10.1" text-anchor="middle" fill="#1a1a1a">(220)</text>
<text x="703.3" y="473.9" font-size="10.1" text-anchor="middle" fill="#1a1a1a">(311)</text>
<text x="724.2" y="483.8" font-size="10.1" text-anchor="middle" fill="#1a1a1a">(222)</text>
<text x="722.8" y="458.3" font-size="10.6" fill="#1a1a1a"><tspan font-family="Liberation Serif, serif" font-style="italic">&#945;</tspan>-MoC</text>
<text x="629" y="527.4" font-size="10.4" text-anchor="middle" fill="#1a1a1a">2<tspan font-style="italic">&#952;</tspan> (°)</text>
</svg></body></html>
